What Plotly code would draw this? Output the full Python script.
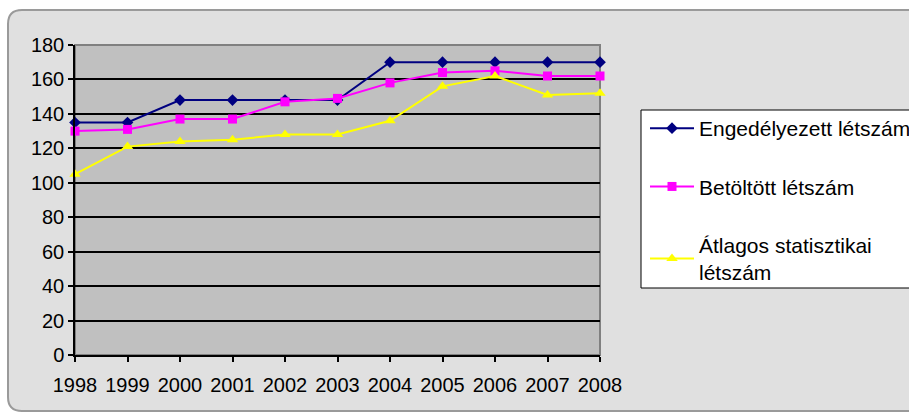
import plotly.graph_objects as go

years = [1998, 1999, 2000, 2001, 2002, 2003, 2004, 2005, 2006, 2007, 2008]
engedelyezett = [135, 135, 148, 148, 148, 148, 170, 170, 170, 170, 170]
betoltott = [130, 131, 137, 137, 147, 149, 158, 164, 165, 162, 162]
atlagos = [105, 121, 124, 125, 128, 128, 136, 156, 162, 151, 152]
series_names = ["Engedélyezett létszám", "Betöltött létszám", "Átlagos statisztikai<br>létszám"]
y_ticks = list(range(0, 181, 20))

W, H = 909, 414
L, R, T, B = 75, 309, 45, 59
PW, PH = W - L - R, H - T - B


def px(x):
    return (x - L) / PW


def py(y):
    return (H - B - y) / PH


def rounded_rect(x0, y0, x1, y1, r):
    pts = [
        f"M {px(x0 + r)} {py(y0)}",
        f"L {px(x1 - r)} {py(y0)}",
        f"Q {px(x1)} {py(y0)} {px(x1)} {py(y0 + r)}",
        f"L {px(x1)} {py(y1 - r)}",
        f"Q {px(x1)} {py(y1)} {px(x1 - r)} {py(y1)}",
        f"L {px(x0 + r)} {py(y1)}",
        f"Q {px(x0)} {py(y1)} {px(x0)} {py(y1 - r)}",
        f"L {px(x0)} {py(y0 + r)}",
        f"Q {px(x0)} {py(y0)} {px(x0 + r)} {py(y0)}",
        "Z",
    ]
    return " ".join(pts)


FONT = "Arial, 'Liberation Sans', sans-serif"

fig = go.Figure()
fig.add_trace(go.Scatter(
    x=years, y=engedelyezett, name=series_names[0], mode="lines+markers",
    line=dict(color="#000080", width=2),
    marker=dict(symbol="diamond", size=9, color="#000080"),
    cliponaxis=False, legendgroup="a"))
fig.add_trace(go.Scatter(
    x=years, y=betoltott, name=series_names[1], mode="lines+markers",
    line=dict(color="#FF00FF", width=2),
    marker=dict(symbol="square", size=9, color="#FF00FF"),
    cliponaxis=False, legendgroup="b"))
fig.add_trace(go.Scatter(
    x=years, y=atlagos, name=series_names[2], mode="lines+markers",
    line=dict(color="#FFFF00", width=2),
    marker=dict(symbol="triangle-up", size=10, color="#FFFF00"),
    cliponaxis=False, legendgroup="c"))

shapes = [
    dict(type="path", xref="paper", yref="paper", layer="below",
         path=rounded_rect(8, 10, 960, 411, 14),
         fillcolor="#e0e0e0", line=dict(color="#9a9a9a", width=2)),
    dict(type="rect", xref="paper", yref="paper", layer="below",
         x0=0, y0=0, x1=1, y1=1,
         fillcolor="#C0C0C0", line=dict(color="#808080", width=2)),
    dict(type="rect", xref="paper", yref="paper", layer="below",
         x0=px(641), y0=py(288), x1=px(960), y1=py(110),
         fillcolor="white", line=dict(color="black", width=1)),
]

fig.update_layout(
    width=W, height=H,
    margin=dict(l=L, r=R, t=T, b=B, autoexpand=False),
    paper_bgcolor="white", plot_bgcolor="rgba(0,0,0,0)",
    font=dict(family=FONT, size=20, color="black"),
    shapes=shapes,
    showlegend=True,
    legend=dict(
        x=px(645), y=py(108), xanchor="left", yanchor="top",
        bgcolor="rgba(0,0,0,0)", borderwidth=0,
        font=dict(family=FONT, size=21, color="black"),
        tracegroupgap=28, itemwidth=44,
    ),
    xaxis=dict(
        range=[1998, 2008], tickmode="array", tickvals=years,
        ticktext=[str(y) for y in years],
        ticks="outside", ticklen=5, tickcolor="black", tickwidth=1.5,
        showline=True, linecolor="black", linewidth=1.5,
        showgrid=False, zeroline=False, ticklabelstandoff=6,
        tickfont=dict(family=FONT, size=20, color="black"),
        fixedrange=True,
    ),
    yaxis=dict(
        range=[0, 180], tickmode="array", tickvals=y_ticks,
        ticks="outside", ticklen=5, tickcolor="black", tickwidth=1.5,
        showline=True, linecolor="black", linewidth=1.5,
        showgrid=True, gridcolor="black", gridwidth=1.5, zeroline=False,
        tickfont=dict(family=FONT, size=20, color="black"),
        fixedrange=True,
    ),
)

fig.write_html(
    "out.html",
    config={"displayModeBar": False},
    post_script="document.body.style.margin='0';document.body.style.overflow='hidden';",
)
